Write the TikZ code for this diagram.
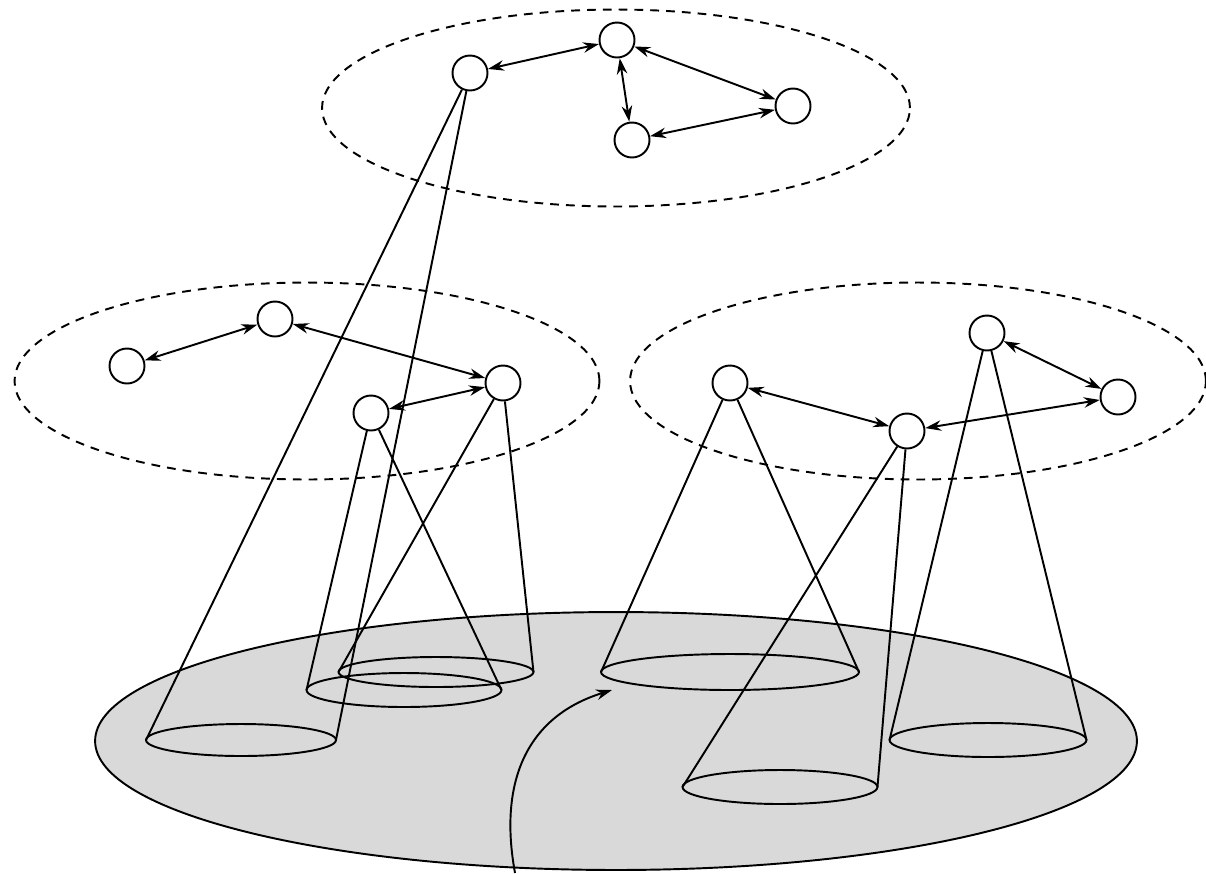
\documentclass[tikz,border=0pt]{standalone}
\usepackage{tikz}
\usetikzlibrary{shapes.geometric, arrows.meta, positioning}

\begin{document}
\begin{tikzpicture}[
    x=0.02cm, y=-0.02cm,
    >={Stealth[length=3.2mm, width=2.1mm]},
    line width=1.1pt,
    agent/.style={draw, circle, fill=white, inner sep=0pt, minimum size=0.7cm},
    layer/.style={draw, ellipse, inner sep=0pt, outer sep=0pt, dash pattern=on 5pt off 4pt},
    ground/.style={draw, ellipse, inner sep=0pt, outer sep=0pt, fill=gray!30},
    foot/.style={draw, ellipse, inner sep=0pt, outer sep=0pt},
    link/.style={<->},
    cone/.style={-},
    flow/.style={->}
]
\useasboundingbox (0,0) rectangle (1206,873);

% 1. Ground plane and footprints
\node[ground, minimum width=20.84cm, minimum height=5.16cm] (Ground) at (616,741) {};

\node[foot, minimum width=3.8cm, minimum height=0.64cm] (F1) at (241,740) {};
\node[foot, minimum width=3.9cm, minimum height=0.68cm] (F2) at (404,690) {};
\node[foot, minimum width=3.9cm, minimum height=0.6cm] (F3) at (436,672) {};
\node[foot, minimum width=5.16cm, minimum height=0.72cm] (F4) at (730,672) {};
\node[foot, minimum width=3.9cm, minimum height=0.68cm] (F5) at (780,787) {};
\node[foot, minimum width=3.94cm, minimum height=0.68cm] (F6) at (988,740) {};

% 2. Layers (dashed)
\node[layer, minimum width=11.76cm, minimum height=3.94cm] (TopLayer) at (616,108) {};
\node[layer, minimum width=11.7cm, minimum height=3.94cm] (LeftLayer) at (307,381) {};
\node[layer, minimum width=11.52cm, minimum height=3.94cm] (RightLayer) at (918,381) {};

% 3. Agents
\node[agent] (T1) at (470,73) {};
\node[agent] (T2) at (617,40) {};
\node[agent] (T3) at (793,106) {};
\node[agent] (T4) at (632,140) {};

\node[agent] (L1) at (127,366) {};
\node[agent] (L2) at (275,319) {};
\node[agent] (L3) at (503,383) {};
\node[agent] (L4) at (371,413) {};

\node[agent] (R1) at (730,383) {};
\node[agent] (R2) at (987,333) {};
\node[agent] (R3) at (1118,397) {};
\node[agent] (R4) at (907,431) {};

% Cones
\draw[cone] (T1) -- (F1.west);
\draw[cone] (T1) -- (F1.east);
\draw[cone] (L4) -- (F2.west);
\draw[cone] (L4) -- (F2.east);
\draw[cone] (L3) -- (F3.west);
\draw[cone] (L3) -- (F3.east);
\draw[cone] (R1) -- (F4.west);
\draw[cone] (R1) -- (F4.east);
\draw[cone] (R4) -- (F5.west);
\draw[cone] (R4) -- (F5.east);
\draw[cone] (R2) -- (F6.west);
\draw[cone] (R2) -- (F6.east);

% Links
\draw[link] (T1) -- (T2);
\draw[link] (T2) -- (T3);
\draw[link] (T2) -- (T4);
\draw[link] (T4) -- (T3);

\draw[link] (L1) -- (L2);
\draw[link] (L2) -- (L3);
\draw[link] (L4) -- (L3);

\draw[link] (R1) -- (R4);
\draw[link] (R2) -- (R3);
\draw[link] (R4) -- (R3);

% Incoming path
\coordinate (Entry) at (515,873);
\coordinate (Target) at (612,690);
\draw[flow] (Entry) .. controls (498,780) and (528,716) .. (Target);

\end{tikzpicture}
\end{document}
